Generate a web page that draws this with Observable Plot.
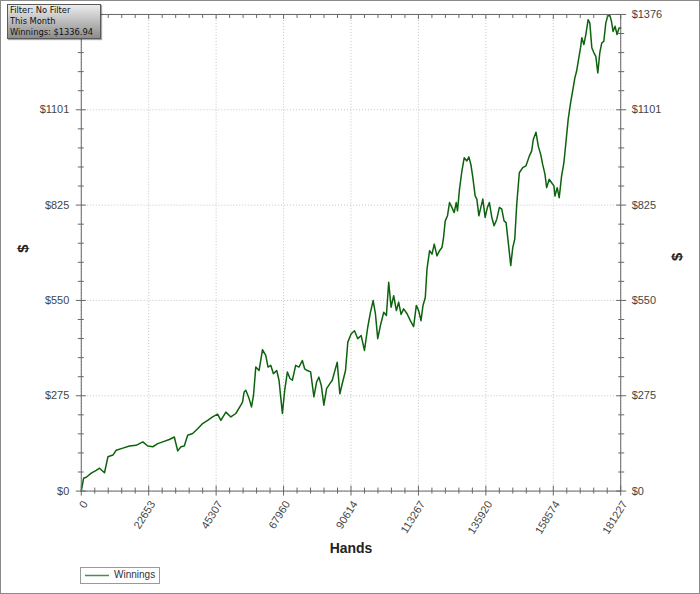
<!DOCTYPE html>
<html>
<head>
<meta charset="utf-8">
<script src="https://cdn.jsdelivr.net/npm/d3@7"></script>
<script src="https://cdn.jsdelivr.net/npm/@observablehq/plot@0.6"></script>
<style>
  body { margin: 0; background: #fff; font-family: "Liberation Sans", Arial, sans-serif; }
  #wrap { position: relative; width: 700px; height: 594px; box-sizing: border-box; border: 1px solid #8a8a8a; overflow: hidden; }
  #chart svg { position: absolute; left: -1px; top: -1px; }
  #info {
    position: absolute; left: 6px; top: 3px; width: 90px; height: 33px;
    border: 1px solid #5a5a5a; padding: 0 0 0 2px;
    background: linear-gradient(#ececec, #8c8c8c);
    box-shadow: 1px 1px 1px rgba(0,0,0,0.35);
    font: 8.3px "DejaVu Sans", sans-serif; color: #111;
  }
  #info div { height: 11px; line-height: 11px; white-space: nowrap; overflow: hidden; }
  #legend {
    position: absolute; left: 79px; top: 566px; width: 78px; height: 15px;
    border: 1px solid #9a9a9a; background: #fff;
    font: 10px "Liberation Sans", Arial, sans-serif; color: #333;
  }
  #legend span { position: absolute; left: 33px; top: 1px; }
</style>
</head>
<body>
<div id="wrap">
  <div id="chart"></div>
  <div id="info"><div>Filter: No Filter</div><div>This Month</div><div>Winnings: $1336.94</div></div>
  <div id="legend"><svg width="30" height="15" style="position:absolute;left:3px;top:0"><line x1="1" x2="25" y1="7.5" y2="7.5" stroke="#4e8c4e" stroke-width="1.5"/></svg><span>Winnings</span></div>
</div>
<script>
// hands played vs cumulative winnings ($)
hands = [0, 770, 1675, 3350, 5025, 6130, 7805, 8945, 10620, 11725, 13970, 16180, 18425, 20670, 22345, 24020,
  25695, 27370, 29580, 31255, 32395, 33500, 34605, 35745, 37420, 39095, 40770, 42445, 44120, 45795, 46900,
  48575, 50250, 51925, 53600, 54170, 54705, 55275, 56380, 57185, 57855, 58625, 59730, 60870, 61975, 62745,
  63650, 64555, 65660, 66430, 67000, 67570, 68340, 69245, 70115, 70920, 72025, 73130, 74270, 75040, 75945,
  77050, 78155, 79060, 79830, 80635, 81505, 82410, 83515, 84320, 85090, 85995, 86865, 87670, 88775, 89545,
  90685, 91790, 92895, 94030, 95135, 96240, 97145, 98050, 98820, 99595, 100500, 101605, 102510, 103280,
  104085, 104955, 105860, 106630, 107435, 108305, 109445, 110550, 111655, 112560, 113330, 114135, 114805,
  115575, 116145, 117015, 117820, 118590, 119495, 120365, 121170, 121705, 122270, 123040, 123715, 124515,
  125285, 125955, 126395, 127060, 127870, 128640, 129545, 130215, 130885, 131555, 132325, 132895, 133565,
  134235, 134905, 135675, 136445, 137115, 137920, 138690, 139595, 140465, 141270, 142040, 142710, 143145,
  143815, 144285, 144955, 145625, 146295, 147165, 148305, 149410, 150515, 151320, 151855, 152760, 153530,
  154335, 155005, 155775, 156345, 157215, 158020, 158790, 159125, 159895, 160565, 161370, 162140, 162810,
  163580, 164385, 165055, 165825, 166395, 167065, 167735, 168170, 168840, 169510, 170280, 170850, 171520,
  172190, 172860, 173530, 174200, 174870, 175540, 176210, 176880, 177550, 178120, 178655, 179325, 179995,
  180665, 181227];
winnings = [0, 37, 40, 52, 60, 66, 53, 99, 104, 118, 124, 130, 132, 142, 130, 128,
  137, 142, 149, 156, 116, 128, 130, 161, 166, 180, 195, 204, 214, 222, 204,
  228, 214, 224, 248, 257, 286, 291, 267, 243, 276, 358, 348, 408, 392, 358,
  363, 339, 348, 320, 272, 224, 291, 344, 325, 320, 363, 358, 377, 353, 348,
  344, 272, 315, 329, 305, 248, 296, 310, 320, 344, 372, 281, 310, 348, 430,
  454, 463, 440, 449, 406, 473, 516, 550, 512, 440, 478, 516, 507, 603,
  531, 564, 521, 545, 510, 526, 512, 492, 475, 536, 521, 492, 536,
  559, 641, 694, 684, 713, 679, 694, 703, 732, 780, 795, 833, 819,
  804, 833, 809, 871, 924, 962, 953, 965, 943, 905, 852, 843, 795,
  819, 843, 790, 819, 833, 790, 766, 785, 819, 814, 780, 775, 742,
  689, 651, 703, 727, 828, 919, 934, 939, 967, 982, 1015, 1036, 996,
  972, 943, 915, 876, 900, 890, 881, 852, 876, 847, 910, 948, 1006,
  1073, 1121, 1154, 1193, 1212, 1246, 1280, 1309, 1289, 1318, 1361, 1351, 1280,
  1266, 1255, 1207, 1266, 1294, 1298, 1351, 1372, 1374, 1356, 1327, 1342, 1318,
  1337, 1337];

xTicks = [0, 22653, 45307, 67960, 90614, 113267, 135920, 158574, 181227];
yTicks = [0, 275.2, 550.4, 825.6, 1100.8, 1376];
yTickLabels = ["$0", "$275", "$550", "$825", "$1101", "$1376"];

data = hands.map((h, i) => ({hands: h, winnings: winnings[i]}));

// 4 minor ticks between each pair of majors
function minors(t) {
    let out = [];
    for (let i = 0; i < t.length - 1; i++)
        for (let k = 1; k < 5; k++) out.push(t[i] + (t[i + 1] - t[i]) * k / 5);
    return out;
}
xMinor = minors(xTicks);
yMinor = minors(yTicks);

const axisColor = "#666";
const dots = {stroke: "#c4c4c4", strokeOpacity: 1, strokeDasharray: "1,2"};

document.getElementById("chart").appendChild(
    Plot.plot({
        width: 700,
        height: 580,
        marginLeft: 81,
        marginRight: 78,
        marginTop: 14,
        marginBottom: 88,
        style: {fontFamily: "Liberation Sans, Arial, sans-serif", fontSize: "11px", background: "transparent"},
        x: {domain: [0, 181227]},
        y: {domain: [0, 1376]},
        marks: [
            Plot.gridX(xTicks, dots),
            Plot.gridY(yTicks, dots),
            Plot.line(data, {x: "hands", y: "winnings", stroke: "#0d620d", strokeWidth: 1.5}),
            Plot.frame({stroke: axisColor}),
            // tick marks crossing the axes
            Plot.axisX(xTicks, {anchor: "bottom", tickSize: 10, dy: -5, fill: "none", stroke: axisColor, label: null}),
            Plot.axisX(xMinor, {anchor: "bottom", tickSize: 6, dy: -3, fill: "none", stroke: axisColor, label: null}),
            Plot.axisX(xTicks, {anchor: "top", tickSize: 4, dy: 4, fill: "none", stroke: axisColor, label: null}),
            Plot.axisX(xMinor, {anchor: "top", tickSize: 3, dy: 3, fill: "none", stroke: axisColor, label: null}),
            Plot.axisY(yTicks, {anchor: "left", tickSize: 10, dx: 5, fill: "none", stroke: axisColor, label: null}),
            Plot.axisY(yMinor, {anchor: "left", tickSize: 6, dx: 3, fill: "none", stroke: axisColor, label: null}),
            Plot.axisY(yTicks, {anchor: "right", tickSize: 10, dx: -5, fill: "none", stroke: axisColor, label: null}),
            Plot.axisY(yMinor, {anchor: "right", tickSize: 6, dx: -3, fill: "none", stroke: axisColor, label: null}),
            // tick labels
            Plot.axisX(xTicks, {
                anchor: "bottom", tickSize: 0, tickPadding: 11, tickRotate: -58, dx: 4,
                tickFormat: d => String(d), fill: "#444", stroke: "none", label: null,
            }),
            Plot.axisY(yTicks, {
                anchor: "left", tickSize: 0, tickPadding: 12,
                tickFormat: d => yTickLabels[yTicks.indexOf(d)], fill: "#444", stroke: "none", label: null,
            }),
            Plot.axisY(yTicks, {
                anchor: "right", tickSize: 0, tickPadding: 11,
                tickFormat: d => yTickLabels[yTicks.indexOf(d)], fill: "#444", stroke: "none", label: null,
            }),
            // axis titles
            Plot.text(["Hands"], {frameAnchor: "bottom", dy: 62, fontWeight: "bold", fontSize: 14, fill: "#222"}),
            Plot.text(["$"], {frameAnchor: "left", dx: -58, rotate: -90, fontWeight: "bold", fontSize: 15, fill: "#222"}),
            Plot.text(["$"], {frameAnchor: "right", dx: 57, rotate: -90, fontWeight: "bold", fontSize: 15, fill: "#222"}),
        ]
    }));
</script>
</body>
</html>
